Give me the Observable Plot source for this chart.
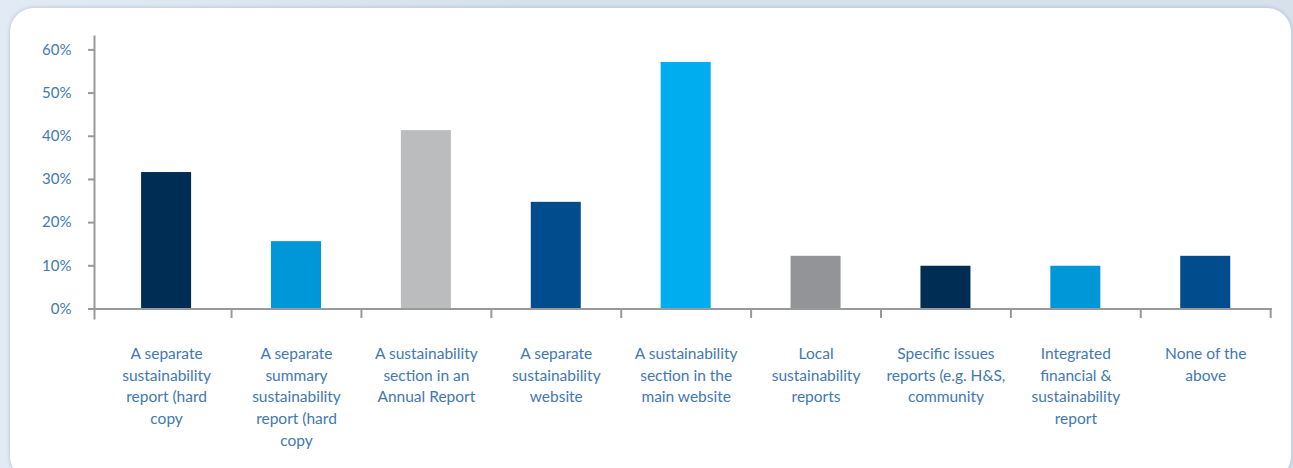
<!DOCTYPE html>
<html>
<head>
<meta charset="utf-8">
<script src="https://cdn.jsdelivr.net/npm/d3@7"></script>
<script src="https://cdn.jsdelivr.net/npm/@observablehq/plot@0.6"></script>
<style>
  html, body { margin: 0; padding: 0; }
  body { width: 1293px; height: 468px; overflow: hidden; position: relative;
         background: linear-gradient(90deg, #e2ebf5 0%, #d6e1ec 40%, #d6e1ec 100%); }
  #panel { position: absolute; left: 10px; top: 8px; width: 1281px; height: 472px;
           background: #fff; border-radius: 24px; box-shadow: 0 0 4px rgba(90,110,140,0.35); }
  #chart { position: absolute; left: 0; top: 0; }
</style>
</head>
<body>
<div id="panel"></div>
<div id="chart"></div>
<script>
const categories = [
  "A separate sustainability report (hard copy",
  "A separate summary sustainability report (hard copy",
  "A sustainability section in an Annual Report",
  "A separate sustainability website",
  "A sustainability section in the main website",
  "Local sustainability reports",
  "Specific issues reports (e.g. H&S, community",
  "Integrated financial & sustainability report",
  "None of the above"
];
const labels = [
  "A separate\nsustainability\nreport (hard\ncopy",
  "A separate\nsummary\nsustainability\nreport (hard\ncopy",
  "A sustainability\nsection in an\nAnnual Report",
  "A separate\nsustainability\nwebsite",
  "A sustainability\nsection in the\nmain website",
  "Local\nsustainability\nreports",
  "Specific issues\nreports (e.g. H&S,\ncommunity",
  "Integrated\nfinancial &\nsustainability\nreport",
  "None of the\nabove"
];
const values = [31.6, 15.6, 41.3, 24.7, 57.1, 12.2, 9.9, 9.9, 12.2];
const colors = ["#002d54", "#0097d8", "#bbbcbe", "#004c8d", "#00aeef", "#929497", "#002d54", "#0097d8", "#004c8d"];
const yTicks = [0, 10, 20, 30, 40, 50, 60];

const data = categories.map((c, i) => ({category: c, value: values[i], color: colors[i]}));
const labelOf = new Map(categories.map((c, i) => [c, labels[i]]));

const axisColor = "#98999c";
const textColor = "#4278b2";
const step = 129.9;
const yMin = -2.2, yMax = 63.1;

const chart = Plot.plot({
  width: 1293,
  height: 468,
  marginLeft: 94,
  marginRight: 21,
  marginTop: 36,
  marginBottom: 150,
  style: {background: "transparent", fontFamily: "Lato, 'Open Sans', sans-serif"},
  x: {domain: categories, paddingInner: 0.615, paddingOuter: 0.342, align: 0.53, round: false, axis: null, label: null},
  y: {domain: [yMin, yMax], axis: null, label: null},
  color: {type: "identity"},
  marks: [
    Plot.barY(data, {x: "category", y1: 0, y2: "value", fill: "color"}),
    Plot.ruleY([0], {stroke: axisColor, strokeWidth: 2}),
    Plot.frame({anchor: "left", stroke: axisColor, strokeWidth: 2}),
    Plot.ruleX(categories.slice(1), {x: d => d, dx: -step / 2, y1: 0, y2: yMin, stroke: axisColor, strokeWidth: 2}),
    Plot.ruleX(categories.slice(-1), {x: d => d, dx: step / 2, y1: 0, y2: yMin, stroke: axisColor, strokeWidth: 2}),
    Plot.axisY({ticks: yTicks, tickFormat: d => d + "%", tickSize: 6, tickPadding: 17, label: null,
      stroke: axisColor, strokeWidth: 2, fill: textColor, fontSize: 15}),
    Plot.axisX({tickSize: 0, tickPadding: 25, tickFormat: d => labelOf.get(d), label: null,
      lineHeight: 1.4, fill: textColor, fontSize: 15.5})
  ]
});
document.getElementById("chart").appendChild(chart);
</script>
</body>
</html>
